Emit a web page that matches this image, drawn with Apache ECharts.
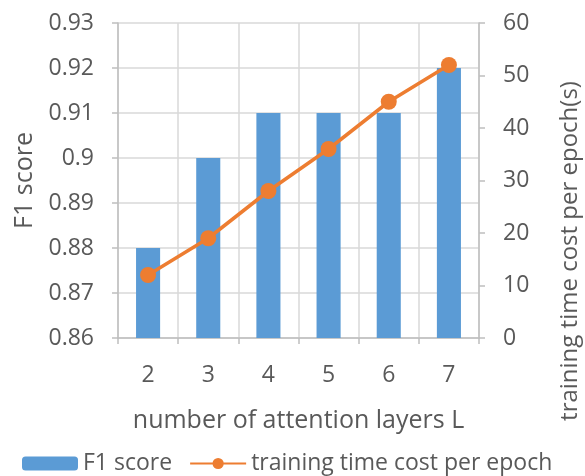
<!DOCTYPE html>
<html><head><meta charset="utf-8">
<script src="https://cdn.jsdelivr.net/npm/echarts@6/dist/echarts.min.js"></script>
<style>html,body{margin:0;padding:0;background:#fff}#c{width:585px;height:476px}</style>
</head><body><div id="c"></div>
<script>
const categories = ['2', '3', '4', '5', '6', '7'];
const f1Scores = [0.88, 0.90, 0.91, 0.91, 0.91, 0.92];
const trainTime = [12, 19, 28, 36, 45, 52];
const leftTicks = [0.86, 0.93, 0.01];
const rightTicks = [0, 60, 10];

const FONT = 'Open Sans';
const TXT = '#595959';
const chart = echarts.init(document.getElementById('c'));
chart.setOption({
  animation: false,
  textStyle: { fontFamily: FONT, color: TXT },
  grid: { left: 118, right: 106, top: 23, bottom: 138 },
  legend: {
    top: 447, left: 17, itemWidth: 56, itemHeight: 14, itemGap: 17,
    textStyle: { fontFamily: FONT, fontSize: 23, color: TXT },
    data: ['F1 score', 'training time cost per epoch']
  },
  xAxis: {
    type: 'category', data: categories,
    name: 'number of attention layers L', nameLocation: 'middle', nameGap: 70,
    nameTextStyle: { fontFamily: FONT, fontSize: 25, color: TXT },
    axisLine: { lineStyle: { color: '#BFBFBF', width: 1.5 } },
    axisTick: { show: true, length: 6, lineStyle: { color: '#BFBFBF', width: 1.5 } },
    axisLabel: { fontFamily: FONT, fontSize: 23, color: TXT, margin: 26 },
    splitLine: { show: true, lineStyle: { color: '#D9D9D9', width: 1.5 } }
  },
  yAxis: [{
    type: 'value', min: leftTicks[0], max: leftTicks[1], interval: leftTicks[2],
    name: 'F1 score', nameLocation: 'middle', nameGap: 80, nameRotate: 90,
    nameTextStyle: { fontFamily: FONT, fontSize: 25, color: TXT },
    axisLine: { show: true, lineStyle: { color: '#BFBFBF', width: 1.5 } },
    axisTick: { show: true, length: 6, lineStyle: { color: '#BFBFBF', width: 1.5 } },
    axisLabel: { fontFamily: FONT, fontSize: 23, color: TXT, margin: 24,
      formatter: v => String(parseFloat(v.toFixed(2))) },
    splitLine: { show: true, lineStyle: { color: '#D9D9D9', width: 1.5 } }
  }, {
    type: 'value', min: rightTicks[0], max: rightTicks[1], interval: rightTicks[2], position: 'right',
    axisLine: { show: true, lineStyle: { color: '#BFBFBF', width: 1.5 } },
    axisTick: { show: true, length: 6, lineStyle: { color: '#BFBFBF', width: 1.5 } },
    axisLabel: { fontFamily: FONT, fontSize: 23, color: TXT, margin: 24 },
    splitLine: { show: false }
  }],
  graphic: [{
    type: 'text', x: 570, y: 251, rotation: Math.PI / 2,
    style: { text: 'training time cost per epoch(s)', fontFamily: FONT, fontSize: 24,
      fill: TXT, align: 'center', verticalAlign: 'middle' }
  }],
  series: [{
    name: 'F1 score', type: 'bar', data: f1Scores, barWidth: '40%',
    itemStyle: { color: '#5B9BD5' }, yAxisIndex: 0
  }, {
    name: 'training time cost per epoch', type: 'line', data: trainTime, yAxisIndex: 1,
    symbol: 'circle', symbolSize: 16,
    lineStyle: { color: '#ED7D31', width: 3.5 }, itemStyle: { color: '#ED7D31' }
  }]
});
</script></body></html>
